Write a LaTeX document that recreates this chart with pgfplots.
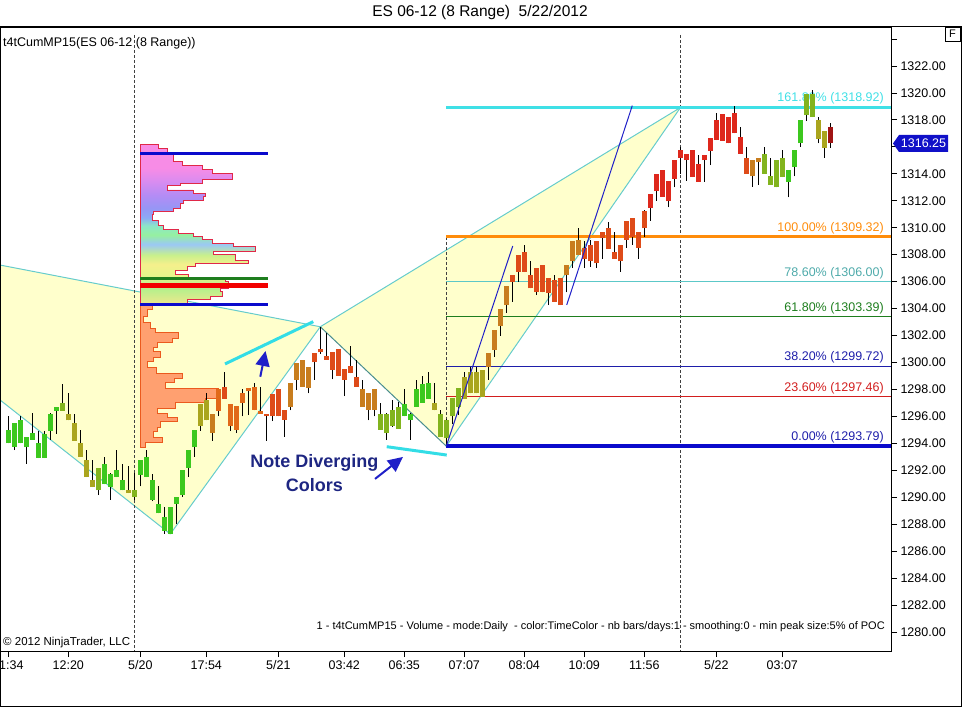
\documentclass[border=0pt]{standalone}
\usepackage{pgfplots}
\pgfplotsset{compat=1.18}
\usepackage{pgfplotstable}
\usepackage{fontspec}
\setmainfont{Liberation Sans}
\usetikzlibrary{arrows.meta}

\definecolor{tri}{HTML}{FFFFCC}
\definecolor{trline}{HTML}{66CCCC}
\definecolor{trdark}{HTML}{4A8E8E}
\definecolor{acyan}{HTML}{33DDE6}
\definecolor{fibA}{HTML}{3FE0E6}
\definecolor{fibB}{HTML}{FF8C0A}
\definecolor{fibC}{HTML}{5CC8C8}
\definecolor{fibD}{HTML}{1E7E1E}
\definecolor{fibE}{HTML}{1E1EAA}
\definecolor{fibF}{HTML}{D21E1E}
\definecolor{fibG}{HTML}{0A0ACC}
\definecolor{tblue}{HTML}{2020C8}
\definecolor{navytxt}{HTML}{1E2682}
\definecolor{mk}{HTML}{1010C8}
\definecolor{profred}{HTML}{E02848}
\definecolor{lowfill}{HTML}{FFA070}
\definecolor{lowline}{HTML}{EB5A1E}
\definecolor{pY}{HTML}{F5E68C}
\definecolor{pG}{HTML}{B4F08C}
\definecolor{pYG}{HTML}{E6F58C}
\definecolor{pY2}{HTML}{F5F08C}
\definecolor{pG2}{HTML}{C8F08C}
\definecolor{pB1}{HTML}{9BC8F5}
\definecolor{pG3}{HTML}{96F0A0}
\definecolor{pC}{HTML}{8CE6C8}
\definecolor{pB2}{HTML}{8CAAF5}
\definecolor{pB3}{HTML}{9696F5}
\definecolor{pV}{HTML}{B48CF5}
\definecolor{pO}{HTML}{D88CF0}
\definecolor{pP}{HTML}{F78CE6}
\pgfdeclareverticalshading{profshade}{100bp}{color(0bp)=(pY); color(25bp)=(pY); color(30.4bp)=(pG); color(34.5bp)=(pYG); color(37.9bp)=(pY2); color(40.8bp)=(pG2); color(44.1bp)=(pB1); color(47bp)=(pG3); color(49.9bp)=(pC); color(52.4bp)=(pB2); color(55.3bp)=(pB3); color(59.4bp)=(pV); color(63.6bp)=(pO); color(67.7bp)=(pP); color(75bp)=(pP); color(100bp)=(pP)}

\pgfplotstableread{
i lo hi bo bt c
0 1294.00 1296.00 1294.00 1295.00 1
1 1293.50 1295.50 1293.75 1295.50 1
2 1294.00 1296.00 1294.00 1295.70 1
3 1292.50 1294.50 1293.70 1294.50 1
4 1294.25 1296.25 1294.25 1294.75 1
5 1292.90 1294.90 1292.90 1294.00 1
6 1292.90 1294.90 1292.90 1294.70 1
7 1294.25 1296.25 1294.95 1296.20 1
8 1294.70 1296.70 1296.40 1296.70 1
9 1296.40 1298.40 1296.40 1296.97 2
10 1295.70 1297.70 1295.70 1296.20 3
11 1294.20 1296.20 1294.20 1295.50 3
12 1293.00 1295.00 1293.00 1294.05 3
13 1291.50 1293.50 1291.50 1292.75 3
14 1290.75 1292.75 1290.75 1291.30 3
15 1290.15 1292.15 1290.50 1292.15 2
16 1290.95 1292.95 1290.95 1292.50 1
17 1289.80 1291.80 1290.75 1291.70 1
18 1291.50 1293.50 1291.50 1292.00 1
19 1290.50 1292.50 1290.50 1291.30 1
20 1290.30 1292.30 1290.30 1290.50 3
21 1289.80 1291.80 1290.00 1290.50 2
22 1290.80 1292.80 1291.65 1292.75 1
23 1291.50 1293.50 1291.50 1292.95 1
24 1289.70 1291.70 1289.80 1291.30 1
25 1288.80 1290.80 1288.80 1289.50 1
26 1287.30 1289.30 1287.50 1288.55 1
27 1287.30 1289.30 1287.30 1289.30 1
28 1288.00 1290.00 1289.50 1290.00 1
29 1290.00 1292.00 1290.15 1292.00 1
30 1291.50 1293.50 1292.20 1293.50 1
31 1293.00 1295.00 1293.70 1295.00 1
32 1294.95 1296.95 1295.30 1296.95 3
33 1295.70 1297.70 1295.70 1297.20 3
34 1294.20 1296.20 1294.80 1296.20 4
35 1296.00 1298.00 1296.40 1298.00 5
36 1297.30 1299.30 1297.30 1298.20 6
37 1294.90 1296.90 1295.25 1296.90 5
38 1294.75 1296.75 1295.00 1296.75 5
39 1296.00 1298.00 1297.00 1297.70 5
40 1296.10 1298.10 1297.85 1298.10 5
41 1296.45 1298.45 1296.50 1298.20 5
42 1296.20 1298.20 1296.20 1296.40 5
43 1294.20 1296.20 1296.00 1296.20 6
44 1295.65 1297.65 1296.00 1297.65 6
45 1296.00 1298.00 1296.00 1298.00 6
46 1294.50 1296.50 1295.75 1296.50 6
47 1296.45 1298.45 1296.70 1298.45 4
48 1297.95 1299.95 1298.70 1299.95 4
49 1298.20 1300.20 1298.20 1300.20 4
50 1297.70 1299.70 1298.10 1299.70 4
51 1298.70 1300.70 1300.00 1300.70 6
52 1300.65 1302.65 1300.75 1301.00 6
53 1300.20 1302.20 1300.20 1300.50 6
54 1298.75 1300.75 1299.45 1300.75 6
55 1299.00 1301.00 1299.00 1301.00 6
56 1297.50 1299.50 1298.70 1299.50 6
57 1299.20 1301.20 1299.25 1299.75 6
58 1298.20 1300.20 1298.20 1298.95 6
59 1296.70 1298.70 1296.70 1298.00 4
60 1295.70 1297.70 1296.50 1297.70 4
61 1296.00 1298.00 1296.50 1298.00 4
62 1295.00 1297.00 1295.00 1296.20 2
63 1294.25 1296.25 1294.75 1296.20 2
64 1295.20 1297.20 1295.25 1296.50 2
65 1295.10 1297.10 1295.10 1296.70 2
66 1296.00 1298.00 1296.00 1296.90 1
67 1294.25 1296.25 1295.70 1296.20 1
68 1296.70 1298.70 1296.70 1298.00 1
69 1297.00 1299.00 1297.00 1298.40 1
70 1297.30 1299.30 1297.30 1298.45 1
71 1296.45 1298.45 1296.50 1297.00 3
72 1294.50 1296.50 1294.50 1296.20 2
73 1293.79 1295.79 1294.40 1295.70 2
74 1295.40 1297.40 1296.00 1297.35 2
75 1296.10 1298.10 1296.70 1298.10 2
76 1297.30 1299.30 1297.30 1298.95 3
77 1297.70 1299.70 1297.70 1299.30 3
78 1297.70 1299.70 1297.70 1299.30 3
79 1297.46 1299.46 1297.46 1299.46 3
80 1298.70 1300.70 1299.70 1300.70 4
81 1300.40 1302.40 1300.90 1302.40 4
82 1302.00 1304.00 1302.70 1304.00 4
83 1303.70 1305.70 1304.25 1305.70 4
84 1304.50 1306.50 1306.00 1306.50 6
85 1306.00 1308.00 1306.75 1308.00 6
86 1306.70 1308.70 1306.75 1308.20 6
87 1305.50 1307.50 1305.50 1306.50 6
88 1305.00 1307.00 1305.25 1307.00 6
89 1305.20 1307.20 1305.25 1307.20 6
90 1304.25 1306.25 1305.15 1306.25 6
91 1304.50 1306.50 1304.50 1306.10 6
92 1304.25 1306.25 1304.25 1306.25 6
93 1305.20 1307.20 1306.50 1307.20 4
94 1307.00 1309.00 1307.50 1309.00 4
95 1308.00 1310.00 1308.00 1309.10 4
96 1307.00 1309.00 1307.70 1308.50 6
97 1307.10 1309.10 1307.50 1308.70 6
98 1307.00 1309.00 1307.35 1309.00 6
99 1307.70 1309.70 1309.20 1309.70 6
100 1308.45 1310.45 1308.45 1309.95 6
101 1307.70 1309.70 1307.70 1308.20 6
102 1306.75 1308.75 1307.50 1308.70 6
103 1308.50 1310.50 1309.10 1310.50 6
104 1308.75 1310.75 1309.30 1310.75 6
105 1307.70 1309.70 1308.50 1309.70 6
106 1309.30 1311.30 1309.95 1311.25 6
107 1310.50 1312.50 1311.45 1312.50 7
108 1312.00 1314.00 1312.70 1314.00 7
109 1312.30 1314.30 1312.30 1314.30 7
110 1311.50 1313.50 1311.95 1313.50 7
111 1313.00 1315.00 1313.65 1315.00 7
112 1314.00 1316.00 1315.20 1315.75 7
113 1313.50 1315.50 1315.00 1315.50 7
114 1313.75 1315.75 1313.75 1315.75 7
115 1313.40 1315.40 1313.40 1314.70 7
116 1313.40 1315.40 1315.00 1315.40 7
117 1314.65 1316.65 1315.70 1316.65 7
118 1316.50 1318.50 1316.50 1318.00 7
119 1316.45 1318.45 1316.45 1318.45 7
120 1316.25 1318.25 1316.25 1318.25 7
121 1317.00 1319.00 1317.00 1318.50 7
122 1315.50 1317.50 1315.50 1316.75 7
123 1314.00 1316.00 1314.00 1315.20 6
124 1313.05 1315.05 1313.80 1315.00 4
125 1313.20 1315.20 1314.85 1315.20 4
126 1314.00 1316.00 1314.00 1315.50 2
127 1313.20 1315.20 1313.20 1313.80 2
128 1313.00 1315.00 1313.00 1315.00 2
129 1313.75 1315.75 1313.75 1315.20 2
130 1312.25 1314.25 1313.40 1314.25 1
131 1313.80 1315.80 1314.50 1315.80 1
132 1316.00 1318.00 1316.25 1318.00 1
133 1317.90 1319.90 1318.35 1319.90 2
134 1318.20 1320.20 1318.20 1319.90 2
135 1316.25 1318.25 1316.60 1318.00 3
136 1315.20 1317.20 1315.95 1317.20 3
137 1315.95 1317.75 1316.25 1317.45 8
}\bars

\begin{document}
\begin{tikzpicture}
\useasboundingbox (0bp,-56bp) rectangle (962bp,651bp);
\begin{axis}[
  at={(0bp,0bp)}, anchor=south west,
  scale only axis, width=891bp, height=624bp,
  xmin=-1.3833, xmax=147.117, ymin=1278.59, ymax=1324.894,
  clip=false,
  axis line style={line width=0.9bp, black},
  tick align=outside, major tick length=6bp,
  tick style={black, line width=0.8bp},
  xtick pos=bottom, ytick pos=right, yticklabel pos=right,
  xtick={0,10,22,33,45,56,66,76,86,96,106,118,129},
  xticklabels={11:34,12:20,5/20,17:54,5/21,03:42,06:35,07:07,08:04,10:09,11:56,5/22,03:07},
  ytick={1280,1282,...,1324},
  yticklabels={1280.00,1282.00,1284.00,1286.00,1288.00,1290.00,1292.00,1294.00,1296.00,1298.00,1300.00,1302.00,1304.00,1306.00,1308.00,1310.00,1312.00,1314.00,{},1318.00,1320.00,1322.00,{}},
  tick label style={font=\fontsize{12.5bp}{15bp}\selectfont},
  colormap={candle}{rgb255=(60,200,30) rgb255=(130,180,30) rgb255=(170,165,30) rgb255=(200,125,30) rgb255=(225,105,25) rgb255=(222,75,25) rgb255=(222,40,28) rgb255=(160,20,20)},
  point meta min=1, point meta max=8,
]
% yellow pattern areas
\addplot[fill=tri, draw=none] coordinates {(-1.3833,1307.23) (52,1302.65) (27,1287.27) (-1.3833,1297.22)} -- cycle;
\addplot[fill=tri, draw=none] coordinates {(52,1302.65) (112.03,1318.92) (73,1293.79)} -- cycle;
% pattern lines
\addplot[trline, line width=1bp] coordinates {(-1.3833,1307.23) (52,1302.65)};
\addplot[trline, line width=1bp] coordinates {(-1.3833,1297.22) (27,1287.27)};
\addplot[trline, line width=1bp] coordinates {(27,1287.27) (52,1302.65)};
\addplot[trdark, line width=1bp] coordinates {(52,1302.65) (73,1293.79)};
\addplot[trline, line width=1bp] coordinates {(52,1302.65) (112.03,1318.92)};
\addplot[trline, line width=1bp] coordinates {(73,1293.79) (112.03,1318.92)};
% session breaks
\addplot[black!75, line width=0.8bp, dash pattern=on 3bp off 2bp] coordinates {(21.03,1324.3) (21.03,1278.59)};
\addplot[black!75, line width=0.8bp, dash pattern=on 3bp off 2bp] coordinates {(112.07,1324.3) (112.07,1278.59)};
\addplot[black!75, line width=0.8bp, dash pattern=on 3bp off 2bp] coordinates {(73,1309.32) (73,1293.79)};
% fib levels
\addplot[fibA, line width=3bp] coordinates {(73,1318.92) (147.117,1318.92)};
\addplot[fibB, line width=3bp] coordinates {(73,1309.32) (147.117,1309.32)};
\addplot[fibC, line width=1bp] coordinates {(73,1306.00) (147.117,1306.00)};
\addplot[fibD, line width=1bp] coordinates {(73,1303.39) (147.117,1303.39)};
\addplot[fibE, line width=1bp] coordinates {(73,1299.72) (147.117,1299.72)};
\addplot[fibF, line width=1bp] coordinates {(73,1297.46) (147.117,1297.46)};
\addplot[fibG, line width=3.5bp] coordinates {(73,1293.79) (147.117,1293.79)};
\begin{scope}[every node/.style={anchor=base east, inner sep=0pt, font=\fontsize{12.5bp}{15bp}\selectfont, yshift=5.5bp}]
\node[text=fibA] at (axis cs:145.95,1318.92) {161.80\% (1318.92)};
\node[text=fibB] at (axis cs:145.95,1309.32) {100.00\% (1309.32)};
\node[text=fibC!85!black] at (axis cs:145.95,1306.00) {78.60\% (1306.00)};
\node[text=fibD] at (axis cs:145.95,1303.39) {61.80\% (1303.39)};
\node[text=fibE] at (axis cs:145.95,1299.72) {38.20\% (1299.72)};
\node[text=fibF] at (axis cs:145.95,1297.46) {23.60\% (1297.46)};
\node[text=fibE] at (axis cs:145.95,1293.79) {0.00\% (1293.79)};
\end{scope}
% volume profile, upper
\addplot[shade, shading=profshade, draw=profred, line width=0.9bp, const plot mark right] coordinates {
(21.95,1316.15) (24.95,1316.15) (26.45,1315.9) (27.45,1315.5) (28.95,1314.9) (32.28,1314.65)
(33.95,1314.3) (37.28,1314.05) (32.28,1313.6) (28.62,1313.3) (26.45,1313.1) (30.78,1312.8)
(32.78,1312.55) (32.45,1312.3) (29.12,1312.05) (28.62,1311.8) (27.45,1311.45) (24.12,1311.2)
(23.95,1310.95) (24.95,1310.55) (25.78,1310.2) (28.28,1309.85) (30.78,1309.6) (32.28,1309.35)
(33.95,1309.1) (37.45,1308.85) (41.12,1308.6) (34.12,1308.25) (37.78,1308.0) (39.95,1307.6)
(31.12,1307.35) (29.78,1307.1) (27.78,1306.85) (29.95,1306.5) (36.12,1306.25) (36.62,1306.0)
(35.28,1305.5) (35.62,1305.25) (33.62,1304.9) (29.78,1304.65) (23.62,1304.4) (21.95,1304.2)} -- cycle;
% volume profile, lower
\addplot[fill=lowfill, draw=lowline, line width=0.9bp, const plot mark right] coordinates {
(21.95,1304.2) (23.95,1304.2) (23.12,1303.9) (22.45,1303.45) (23.62,1303.0) (24.45,1302.55)
(28.28,1302.2) (27.28,1301.8) (24.78,1301.5) (24.12,1301.15) (25.28,1300.8) (24.12,1300.4)
(23.12,1300.05) (24.62,1299.65) (28.95,1299.2) (27.62,1298.85) (26.12,1298.5) (34.95,1298.1)
(34.62,1297.75) (32.78,1297.35) (27.78,1297.0) (24.78,1296.6) (26.45,1296.25) (28.12,1295.9)
(25.28,1295.6) (24.78,1295.2) (24.12,1294.85) (25.62,1294.45) (22.78,1294.1) (21.95,1293.73)} -- cycle;
% profile levels
\addplot[fibG, line width=3bp] coordinates {(21.95,1315.52) (43.28,1315.52)};
\addplot[fibD, line width=3bp] coordinates {(21.95,1306.25) (43.28,1306.25)};
\addplot[red!95!black, line width=4.5bp] coordinates {(21.95,1305.73) (43.28,1305.73)};
\addplot[fibG, line width=3bp] coordinates {(21.95,1304.29) (43.28,1304.29)};
% candles
\addplot[black, line width=1bp, quiver={u=0, v=\thisrow{hi}-\thisrow{lo}}] table[x=i, y=lo] {\bars};
\addplot[point meta=\thisrow{c}, quiver={u=0, v=\thisrow{bt}-\thisrow{bo}, colored=mapped color, every arrow/.append style={line width=4.8bp}}] table[x=i, y=bo] {\bars};
% blue channel lines
\addplot[tblue, line width=1bp] coordinates {(73,1293.79) (84.07,1308.64)};
\addplot[tblue, line width=1bp] coordinates {(93.07,1304.27) (104,1319.06)};
% annotations
\addplot[acyan, line width=3bp] coordinates {(36.12,1299.89) (50.83,1303.03)};
\addplot[acyan, line width=3bp] coordinates {(63.07,1293.75) (73.07,1293.13)};
\addplot[tblue, line width=2bp, -{Triangle[width=14bp,length=15bp]}] coordinates {(42.0,1298.94) (42.87,1300.85)};
\addplot[tblue, line width=2bp, -{Triangle[width=14bp,length=15bp]}] coordinates {(61.12,1291.36) (65.78,1292.99)};
\node[font=\fontsize{18bp}{21bp}\selectfont\bfseries, text=navytxt] at (axis cs:51.03,1292.54) {Note Diverging};
\node[font=\fontsize{18bp}{21bp}\selectfont\bfseries, text=navytxt] at (axis cs:51.03,1290.91) {Colors};
\end{axis}
% outer frame and texts
\draw[line width=1bp] (0.5bp,-55.5bp) rectangle (961.5bp,624bp);
\node[font=\fontsize{15.5bp}{18bp}\selectfont] at (480bp,638bp) {ES 06-12 (8 Range)~ 5/22/2012};
\node[anchor=west, inner sep=0pt, font=\fontsize{12.5bp}{15bp}\selectfont] at (3bp,608bp) {t4tCumMP15(ES 06-12 (8 Range))};
\node[anchor=west, inner sep=0pt, font=\fontsize{11.5bp}{14bp}\selectfont] at (3bp,8bp) {© 2012 NinjaTrader, LLC};
\node[anchor=east, inner sep=0pt, font=\fontsize{11bp}{13bp}\selectfont] at (885bp,24bp) {1 - t4tCumMP15 - Volume - mode:Daily~ - color:TimeColor - nb bars/days:1 - smoothing:0 - min peak size:5\% of POC};
\fill[mk] (893bp,507.5bp) -- (899bp,516bp) -- (948bp,516bp) -- (948bp,499bp) -- (899bp,499bp) -- cycle;
\node[text=white, font=\fontsize{12.5bp}{15bp}\selectfont] at (923.5bp,507.5bp) {1316.25};
\draw[line width=0.8bp] (945bp,610bp) rectangle (960bp,624bp);
\node[font=\fontsize{11bp}{13bp}\selectfont] at (952.5bp,617bp) {F};
\end{tikzpicture}
\end{document}
